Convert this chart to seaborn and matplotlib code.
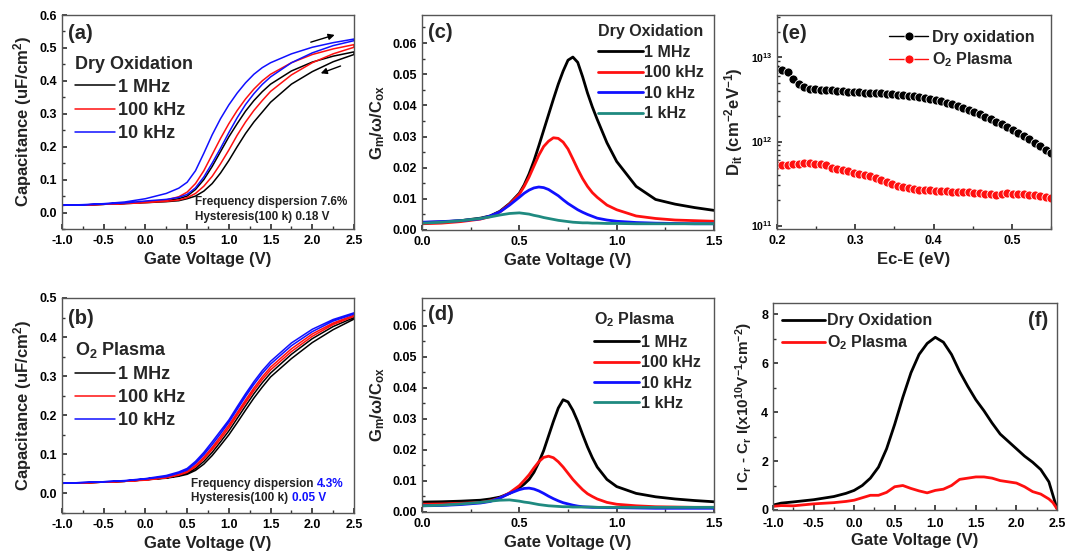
import numpy as np
import pandas as pd
import matplotlib
matplotlib.use("Agg")
import matplotlib.pyplot as plt
import seaborn as sns
from matplotlib.ticker import MultipleLocator, AutoMinorLocator, LogLocator, FormatStrFormatter

# ---------------- data ----------------
# (a)/(b) C-V hysteresis, gate voltage grid
v_cv = [-1.0, -0.75, -0.5, -0.25, 0.0, 0.25, 0.4, 0.5, 0.6, 0.7, 0.8, 0.9, 1.0,
        1.1, 1.2, 1.3, 1.4, 1.5, 1.75, 2.0, 2.25, 2.5]
cv_labels = ["1 MHz", "100 kHz", "10 kHz"]

# Dry oxidation: forward (upper) and reverse (lower) sweeps
dry_1M_fwd = [0.022, 0.023, 0.025, 0.028, 0.032, 0.036, 0.042, 0.050, 0.070, 0.100, 0.140, 0.185, 0.230,
              0.270, 0.308, 0.340, 0.367, 0.390, 0.430, 0.457, 0.475, 0.488]
dry_1M_rev = [0.022, 0.023, 0.025, 0.027, 0.030, 0.033, 0.036, 0.042, 0.050, 0.065, 0.088, 0.120, 0.158,
              0.200, 0.240, 0.275, 0.305, 0.335, 0.390, 0.428, 0.458, 0.480]
dry_100k_fwd = [0.022, 0.023, 0.025, 0.028, 0.032, 0.038, 0.048, 0.062, 0.088, 0.127, 0.176, 0.225, 0.270,
                0.310, 0.345, 0.375, 0.400, 0.420, 0.455, 0.480, 0.497, 0.510]
dry_100k_rev = [0.022, 0.023, 0.025, 0.027, 0.030, 0.034, 0.038, 0.045, 0.058, 0.080, 0.110, 0.148, 0.190,
                0.235, 0.275, 0.310, 0.340, 0.368, 0.418, 0.455, 0.482, 0.502]
dry_10k_fwd = [0.022, 0.024, 0.027, 0.032, 0.042, 0.058, 0.074, 0.092, 0.127, 0.180, 0.236, 0.285, 0.327,
               0.363, 0.394, 0.420, 0.440, 0.455, 0.482, 0.502, 0.516, 0.527]
dry_10k_rev = [0.022, 0.023, 0.026, 0.029, 0.035, 0.040, 0.046, 0.055, 0.075, 0.108, 0.150, 0.195, 0.243,
               0.288, 0.328, 0.361, 0.389, 0.412, 0.455, 0.485, 0.507, 0.522]

# O2 plasma
o2_1M_fwd = [0.026, 0.027, 0.029, 0.031, 0.035, 0.040, 0.046, 0.052, 0.064, 0.082, 0.105, 0.132, 0.160,
             0.192, 0.224, 0.255, 0.283, 0.308, 0.356, 0.396, 0.427, 0.450]
o2_1M_rev = [0.026, 0.027, 0.029, 0.031, 0.035, 0.039, 0.044, 0.049, 0.059, 0.075, 0.097, 0.123, 0.150,
             0.181, 0.213, 0.244, 0.272, 0.298, 0.345, 0.386, 0.419, 0.446]
o2_100k_fwd = [0.026, 0.027, 0.029, 0.031, 0.035, 0.041, 0.049, 0.057, 0.072, 0.093, 0.118, 0.146, 0.175,
               0.207, 0.239, 0.270, 0.298, 0.323, 0.370, 0.408, 0.436, 0.456]
o2_100k_rev = [0.026, 0.027, 0.029, 0.031, 0.034, 0.040, 0.047, 0.054, 0.068, 0.088, 0.112, 0.139, 0.168,
               0.200, 0.232, 0.263, 0.291, 0.316, 0.363, 0.402, 0.432, 0.453]
o2_10k_fwd = [0.026, 0.028, 0.030, 0.033, 0.038, 0.046, 0.055, 0.064, 0.082, 0.105, 0.132, 0.160, 0.188,
              0.222, 0.255, 0.286, 0.314, 0.338, 0.385, 0.420, 0.445, 0.462]
o2_10k_rev = [0.026, 0.028, 0.030, 0.032, 0.037, 0.043, 0.052, 0.060, 0.077, 0.099, 0.125, 0.153, 0.182,
              0.215, 0.248, 0.279, 0.307, 0.331, 0.378, 0.414, 0.441, 0.459]

# (c)/(d) conductance peaks
v_g = [0.0, 0.1, 0.2, 0.3, 0.35, 0.4, 0.45, 0.5, 0.525, 0.55, 0.575, 0.6, 0.625, 0.65, 0.675, 0.7,
       0.725, 0.75, 0.775, 0.8, 0.825, 0.85, 0.875, 0.9, 0.95, 1.0, 1.1, 1.2, 1.3, 1.4, 1.5]
g_labels = ["1 MHz", "100 kHz", "10 kHz", "1 kHz"]
dry_g_1M = [0.0024, 0.0026, 0.0030, 0.0038, 0.0045, 0.0060, 0.0085, 0.0118, 0.0145, 0.0180, 0.0222, 0.0270,
            0.0320, 0.0370, 0.0420, 0.0468, 0.0510, 0.0545, 0.0555, 0.0538, 0.0492, 0.0440, 0.0395, 0.0355,
            0.0280, 0.0220, 0.0140, 0.0098, 0.0083, 0.0072, 0.0063]
dry_g_100k = [0.0020, 0.0022, 0.0027, 0.0035, 0.0043, 0.0058, 0.0083, 0.0115, 0.0140, 0.0170, 0.0205, 0.0240,
              0.0268, 0.0285, 0.0296, 0.0294, 0.0282, 0.0260, 0.0228, 0.0195, 0.0165, 0.0140, 0.0120, 0.0105,
              0.0080, 0.0065, 0.0045, 0.0037, 0.0032, 0.0030, 0.0028]
dry_g_10k = [0.0025, 0.0027, 0.0030, 0.0036, 0.0045, 0.0058, 0.0080, 0.0105, 0.0118, 0.0128, 0.0135, 0.0138,
             0.0136, 0.0130, 0.0120, 0.0110, 0.0097, 0.0085, 0.0075, 0.0065, 0.0057, 0.0050, 0.0044, 0.0038,
             0.0032, 0.0028, 0.0024, 0.0022, 0.0021, 0.0020, 0.0020]
dry_g_1k = [0.0022, 0.0025, 0.0030, 0.0037, 0.0042, 0.0048, 0.0053, 0.0055, 0.0053, 0.0051, 0.0047, 0.0044,
            0.0040, 0.0037, 0.0034, 0.0031, 0.0029, 0.0027, 0.0025, 0.0024, 0.0023, 0.0023, 0.0022, 0.0022,
            0.0021, 0.0021, 0.0020, 0.0020, 0.0020, 0.0020, 0.0020]

o2_g_1M = [0.0032, 0.0033, 0.0035, 0.0038, 0.0042, 0.0048, 0.0060, 0.0078, 0.0090, 0.0105, 0.0128, 0.0160,
           0.0198, 0.0245, 0.0292, 0.0335, 0.0362, 0.0355, 0.0328, 0.0292, 0.0250, 0.0210, 0.0175, 0.0145,
           0.0105, 0.0082, 0.0060, 0.0049, 0.0042, 0.0037, 0.0033]
o2_g_100k = [0.0025, 0.0026, 0.0028, 0.0031, 0.0036, 0.0045, 0.0062, 0.0085, 0.0102, 0.0120, 0.0142, 0.0162,
             0.0176, 0.0180, 0.0175, 0.0162, 0.0145, 0.0125, 0.0105, 0.0088, 0.0072, 0.0059, 0.0050, 0.0042,
             0.0031, 0.0025, 0.0020, 0.0017, 0.0016, 0.0015, 0.0015]
o2_g_10k = [0.0020, 0.0021, 0.0024, 0.0029, 0.0034, 0.0045, 0.0060, 0.0072, 0.0076, 0.0077, 0.0074, 0.0068,
            0.0060, 0.0051, 0.0043, 0.0036, 0.0030, 0.0026, 0.0022, 0.0019, 0.0017, 0.0016, 0.0015, 0.0015,
            0.0014, 0.0014, 0.0013, 0.0012, 0.0012, 0.0012, 0.0012]
o2_g_1k = [0.0020, 0.0022, 0.0026, 0.0031, 0.0035, 0.0038, 0.0039, 0.0035, 0.0032, 0.0030, 0.0027, 0.0024,
           0.0022, 0.0020, 0.0019, 0.0018, 0.0017, 0.0017, 0.0016, 0.0016, 0.0016, 0.0016, 0.0016, 0.0015,
           0.0015, 0.0015, 0.0015, 0.0015, 0.0015, 0.0015, 0.0015]

# (e) interface trap density
e_ce = [0.200, 0.207, 0.214, 0.221, 0.228, 0.235, 0.242, 0.249, 0.256, 0.263, 0.270, 0.277, 0.284,
        0.291, 0.298, 0.305, 0.312, 0.319, 0.326, 0.333, 0.340, 0.347, 0.354, 0.361, 0.368, 0.375,
        0.382, 0.389, 0.396, 0.403, 0.410, 0.417, 0.424, 0.431, 0.438, 0.445, 0.452, 0.459, 0.466,
        0.473, 0.480, 0.487, 0.494, 0.501, 0.508, 0.515, 0.522, 0.529, 0.536, 0.543, 0.550]
dit_dry_e12 = [7.2, 7.0, 6.8, 5.6, 4.8, 4.4, 4.25, 4.2, 4.15, 4.1, 4.05, 4.0, 3.95, 3.92, 3.88, 3.85,
               3.82, 3.8, 3.77, 3.74, 3.7, 3.66, 3.62, 3.56, 3.5, 3.44, 3.38, 3.3, 3.22, 3.12, 3.02,
               2.9, 2.78, 2.65, 2.52, 2.4, 2.26, 2.12, 1.98, 1.84, 1.72, 1.6, 1.48, 1.37, 1.26, 1.16,
               1.06, 0.97, 0.88, 0.8, 0.73]
dit_o2_e11 = [5.3, 5.2, 5.3, 5.4, 5.45, 5.5, 5.5, 5.45, 5.35, 5.2, 4.9, 4.7, 4.55, 4.4, 4.25, 4.1,
              3.95, 3.85, 3.7, 3.5, 3.3, 3.1, 2.98, 2.88, 2.78, 2.7, 2.66, 2.63, 2.62, 2.6, 2.58,
              2.56, 2.54, 2.52, 2.5, 2.48, 2.45, 2.43, 2.4, 2.36, 2.32, 2.38, 2.42, 2.4, 2.38, 2.36,
              2.33, 2.3, 2.24, 2.18, 2.12]

# (f) |Cr - Cf|
v_f = [-1.0, -0.9, -0.75, -0.5, -0.25, -0.1, 0.0, 0.1, 0.2, 0.3, 0.4, 0.5, 0.6, 0.7, 0.8, 0.9, 1.0,
       1.1, 1.2, 1.3, 1.4, 1.5, 1.6, 1.7, 1.8, 1.9, 2.0, 2.1, 2.2, 2.3, 2.4, 2.45, 2.5]
dc_dry = [0.2, 0.28, 0.33, 0.42, 0.55, 0.68, 0.8, 1.0, 1.3, 1.75, 2.5, 3.5, 4.6, 5.6, 6.35, 6.8, 7.05,
          6.85, 6.35, 5.65, 5.05, 4.5, 4.05, 3.55, 3.1, 2.8, 2.5, 2.2, 1.95, 1.65, 1.15, 0.6, 0.05]
dc_o2 = [0.15, 0.18, 0.17, 0.25, 0.3, 0.35, 0.4, 0.5, 0.6, 0.6, 0.72, 0.95, 1.0, 0.88, 0.78, 0.7, 0.8,
         0.85, 1.0, 1.25, 1.3, 1.35, 1.35, 1.3, 1.2, 1.15, 1.1, 0.95, 0.75, 0.65, 0.45, 0.3, 0.05]

# ---------------- style ----------------
sns.set_theme(style="ticks")
plt.rcParams.update({
    "font.family": ["Liberation Sans", "DejaVu Sans"],
    "font.weight": "bold",
    "axes.labelweight": "bold",
    "axes.unicode_minus": False,
    "mathtext.fontset": "custom",
    "mathtext.rm": "Liberation Sans:bold",
    "mathtext.it": "Liberation Sans:bold",
    "mathtext.bf": "Liberation Sans:bold",
    "mathtext.default": "bf",
    "xtick.direction": "in",
    "ytick.direction": "in",
    "xtick.labelsize": 9,
    "ytick.labelsize": 9,
    "xtick.major.size": 3.5,
    "ytick.major.size": 3.5,
    "xtick.minor.size": 2,
    "ytick.minor.size": 2,
    "xtick.major.pad": 4,
    "axes.linewidth": 1.0,
    "axes.edgecolor": "#555555",
    "axes.labelsize": 12,
    "legend.fontsize": 12,
})

BLACK, RED, BLUE, TEAL = "#000000", "#ff1010", "#1010ff", "#1f8a80"
W, H = 1077, 558
fig = plt.figure(figsize=(W / 100, H / 100), dpi=100)


def ax_px(left, top, right, bottom):
    return fig.add_axes([left / W, 1 - bottom / H, (right - left) / W, (bottom - top) / H])


ax_a = ax_px(62, 15, 354, 229)
ax_b = ax_px(62, 298, 354, 513)
ax_c = ax_px(422, 15, 714, 230)
ax_d = ax_px(422, 298, 714, 512)
ax_e = ax_px(777, 15, 1051, 229)
ax_f = ax_px(773, 303, 1057, 510)


def bold_legend(leg):
    for t in leg.get_texts():
        t.set_fontweight("bold")


def loop_df(fwd, rev):
    return pd.DataFrame({"V": list(v_cv) + list(v_cv[::-1]), "C": list(fwd) + list(rev[::-1])})


def cv_panel(ax, curves, tag, ymax, tag_y):
    for (fwd, rev), col, lab in zip(curves, [BLACK, RED, BLUE], cv_labels):
        sns.lineplot(data=loop_df(fwd, rev), x="V", y="C", ax=ax, sort=False, estimator=None,
                     color=col, lw=1.1, label=lab)
    ax.set_xlim(-1.0, 2.5)
    ax.set_ylim(-0.05, ymax)
    ax.xaxis.set_major_locator(MultipleLocator(0.5))
    ax.xaxis.set_minor_locator(AutoMinorLocator(2))
    ax.yaxis.set_major_locator(MultipleLocator(0.1))
    ax.yaxis.set_minor_locator(AutoMinorLocator(2))
    ax.xaxis.set_major_formatter(FormatStrFormatter("%.1f"))
    ax.yaxis.set_major_formatter(FormatStrFormatter("%.1f"))
    ax.set_xlabel("Gate Voltage (V)")
    ax.set_ylabel("Capacitance (uF/cm$^2$)")
    ax.text(0.02, tag_y, tag, transform=ax.transAxes, fontsize=14.5, fontweight="bold", va="center")


cv_panel(ax_a, [(dry_1M_fwd, dry_1M_rev), (dry_100k_fwd, dry_100k_rev), (dry_10k_fwd, dry_10k_rev)],
         "(a)", 0.6, 0.915)
bold_legend(ax_a.legend(title="Dry Oxidation", loc="upper left", bbox_to_anchor=(0.045, 0.81),
                        frameon=False, borderpad=0, borderaxespad=0, handlelength=2.2, handletextpad=0.2,
                        labelspacing=0.34, alignment="left", fontsize=13,
                        title_fontproperties={"weight": "bold", "size": 13}))
ax_a.annotate("", xy=(2.30, 0.542), xytext=(1.95, 0.515),
              arrowprops=dict(arrowstyle="-|>", color="black", lw=1.0, mutation_scale=9))
ax_a.annotate("", xy=(2.07, 0.42), xytext=(2.37, 0.448),
              arrowprops=dict(arrowstyle="-|>", color="black", lw=1.0, mutation_scale=9))
ax_a.text(0.455, 0.126, "Frequency dispersion 7.6%", transform=ax_a.transAxes, fontsize=8.5,
          fontweight="bold", va="center", color="#222222")
ax_a.text(0.455, 0.056, "Hysteresis(100 k) 0.18 V", transform=ax_a.transAxes, fontsize=8.5,
          fontweight="bold", va="center", color="#222222")

cv_panel(ax_b, [(o2_1M_fwd, o2_1M_rev), (o2_100k_fwd, o2_100k_rev), (o2_10k_fwd, o2_10k_rev)],
         "(b)", 0.5, 0.905)
bold_legend(ax_b.legend(title="O$_2$ Plasma", loc="upper left", bbox_to_anchor=(0.045, 0.806),
                        frameon=False, borderpad=0, borderaxespad=0, handlelength=2.2, handletextpad=0.2,
                        labelspacing=0.34, alignment="left", fontsize=13,
                        title_fontproperties={"weight": "bold", "size": 13}))
t1 = ax_b.text(0.442, 0.135, "Frequency dispersion", transform=ax_b.transAxes, fontsize=8.5,
               fontweight="bold", va="center", color="#222222")
ax_b.annotate("4.3%", xy=(1, 0), xycoords=t1, xytext=(2.5, 0), textcoords="offset points",
              va="bottom", ha="left", fontsize=8.5, fontweight="bold", color=BLUE)
t2 = ax_b.text(0.442, 0.068, "Hysteresis(100 k)", transform=ax_b.transAxes, fontsize=8.5,
               fontweight="bold", va="center", color="#222222")
ax_b.annotate("0.05 V", xy=(1, 0), xycoords=t2, xytext=(2.5, 0), textcoords="offset points",
              va="bottom", ha="left", fontsize=8.5, fontweight="bold", color=BLUE)


def g_panel(ax, series, title, tag, leg_anchor, tag_y):
    for ys, col, lab in zip(series, [BLACK, RED, BLUE, TEAL], g_labels):
        sns.lineplot(x=v_g, y=ys, ax=ax, color=col, lw=2.0, label=lab, estimator=None)
    ax.set_xlim(0, 1.5)
    ax.set_ylim(0, 0.069)
    ax.xaxis.set_major_locator(MultipleLocator(0.5))
    ax.xaxis.set_minor_locator(AutoMinorLocator(2))
    ax.yaxis.set_major_locator(MultipleLocator(0.01))
    ax.yaxis.set_minor_locator(AutoMinorLocator(2))
    ax.xaxis.set_major_formatter(FormatStrFormatter("%.1f"))
    ax.yaxis.set_major_formatter(FormatStrFormatter("%.2f"))
    ax.set_xlabel("Gate Voltage (V)")
    ax.set_ylabel("G$_m$/ω/C$_{ox}$")
    ax.text(0.02, tag_y, tag, transform=ax.transAxes, fontsize=14.5, fontweight="bold", va="center")
    bold_legend(ax.legend(title=title, loc="upper left", bbox_to_anchor=leg_anchor, frameon=False,
                          borderpad=0, borderaxespad=0, handlelength=2.8, handletextpad=0.1,
                          labelspacing=0.34, alignment="left", fontsize=11.5,
                          title_fontproperties={"weight": "bold", "size": 11.5}))


g_panel(ax_c, [dry_g_1M, dry_g_100k, dry_g_10k, dry_g_1k], "Dry Oxidation", "(c)", (0.603, 0.956), 0.918)
g_panel(ax_d, [o2_g_1M, o2_g_100k, o2_g_10k, o2_g_1k], "O$_2$ Plasma", "(d)", (0.59, 0.941), 0.925)

# (e)
sns.lineplot(x=e_ce, y=[v * 1e12 for v in dit_dry_e12], ax=ax_e, color=BLACK, lw=1.0, marker="o",
             markersize=6.5, markerfacecolor=BLACK, markeredgecolor="white", markeredgewidth=0.6,
             label="Dry oxidation", estimator=None)
sns.lineplot(x=e_ce, y=[v * 1e11 for v in dit_o2_e11], ax=ax_e, color=RED, lw=1.0, marker="o",
             markersize=6.5, markerfacecolor=RED, markeredgecolor="white", markeredgewidth=0.6,
             label="O$_2$ Plasma", estimator=None)
ax_e.set_yscale("log")
ax_e.set_xlim(0.2, 0.55)
ax_e.set_ylim(9.1e10, 3.2e13)
ax_e.xaxis.set_major_locator(MultipleLocator(0.1))
ax_e.xaxis.set_minor_locator(AutoMinorLocator(2))
ax_e.xaxis.set_major_formatter(FormatStrFormatter("%.1f"))
ax_e.yaxis.set_major_locator(LogLocator(base=10, numticks=10))
ax_e.yaxis.set_minor_locator(LogLocator(base=10, subs=np.arange(2, 10) * 1.0, numticks=10))
ax_e.tick_params(axis="y", which="major", labelsize=7.5)
ax_e.set_xlabel("Ec-E (eV)")
ax_e.set_ylabel("D$_{it}$ (cm$^{-2}$eV$^{-1}$)")
ax_e.text(0.018, 0.913, "(e)", transform=ax_e.transAxes, fontsize=14.5, fontweight="bold", va="center")
bold_legend(ax_e.legend(loc="upper left", bbox_to_anchor=(0.41, 0.932), frameon=False, borderpad=0,
                        borderaxespad=0, handlelength=2.4, handletextpad=0.3, labelspacing=0.39,
                        fontsize=11.5))

# (f)
sns.lineplot(x=v_f, y=dc_dry, ax=ax_f, color=BLACK, lw=2.0, label="Dry Oxidation", estimator=None)
sns.lineplot(x=v_f, y=dc_o2, ax=ax_f, color=RED, lw=2.0, label="O$_2$ Plasma", estimator=None)
ax_f.set_xlim(-1.0, 2.5)
ax_f.set_ylim(0, 8.45)
ax_f.xaxis.set_major_locator(MultipleLocator(0.5))
ax_f.xaxis.set_minor_locator(AutoMinorLocator(2))
ax_f.yaxis.set_major_locator(MultipleLocator(2))
ax_f.yaxis.set_minor_locator(AutoMinorLocator(2))
ax_f.xaxis.set_major_formatter(FormatStrFormatter("%.1f"))
ax_f.tick_params(axis="x", pad=6)
ax_f.set_xlabel("Gate Voltage (V)", labelpad=2)
ax_f.set_ylabel("I C$_r$ - C$_r$ I(x10$^{10}$V$^{-1}$cm$^{-2}$)", fontsize=11)
ax_f.text(0.968, 0.915, "(f)", transform=ax_f.transAxes, fontsize=14.5, fontweight="bold", va="center",
          ha="right")
bold_legend(ax_f.legend(loc="upper left", bbox_to_anchor=(0.03, 0.951), frameon=False, borderpad=0,
                        borderaxespad=0, handlelength=2.7, handletextpad=0.15, labelspacing=0.35,
                        fontsize=11.5))

for ax in [ax_a, ax_b, ax_c, ax_d, ax_e, ax_f]:
    ax.tick_params(which="both", top=False, right=False, colors="#333333", labelcolor="black")
    ax.xaxis.label.set_color("#222222")
    ax.yaxis.label.set_color("#222222")
    for lab in ax.get_xticklabels() + ax.get_yticklabels():
        lab.set_fontweight("bold")

fig.savefig("out.png", dpi=100)
